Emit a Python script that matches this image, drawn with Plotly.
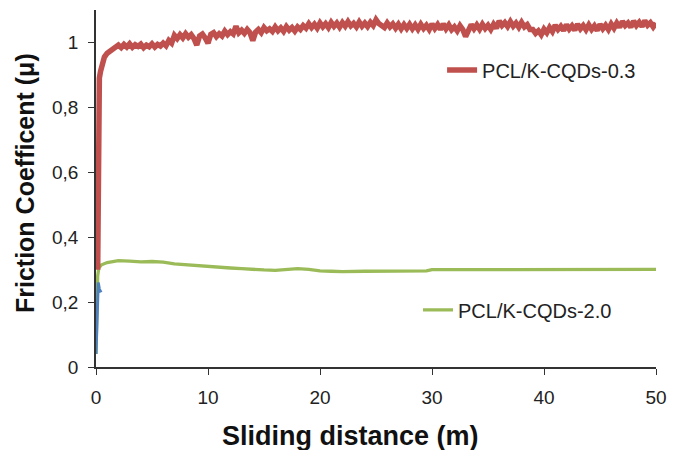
import numpy as np
import plotly.graph_objects as go

# ---- data ----
red_x_start = [0.15, 0.2, 0.25, 0.3, 0.4, 0.55, 0.75, 1.0, 1.3, 1.6]
red_y_start = [0.30, 0.70, 0.85, 0.89, 0.91, 0.935, 0.955, 0.967, 0.975, 0.982]
red_x_main = list(np.arange(2.0, 50.001, 0.25))
red_y_main = [
    0.992, 0.984, 0.994, 0.986, 0.996, 0.985, 0.993, 0.988,
    0.995, 0.984, 0.992, 0.987, 0.996, 0.986, 0.994, 0.989,
    0.998, 0.990, 1.006, 0.998, 1.022, 1.012, 1.024, 1.014,
    1.027, 1.016, 1.024, 1.012, 0.992, 1.020, 1.026, 1.014,
    0.998, 1.025, 1.030, 1.018, 1.027, 1.020, 1.035, 1.024,
    1.033, 1.026, 1.050, 1.030, 1.038, 1.028, 1.040, 1.030,
    1.006, 1.032, 1.040, 1.030, 1.046, 1.036, 1.042, 1.034,
    1.048, 1.036, 1.045, 1.034, 1.049, 1.038, 1.046, 1.035,
    1.048, 1.040, 1.052, 1.044, 1.058, 1.046, 1.056, 1.044,
    1.060, 1.048, 1.058, 1.046, 1.062, 1.050, 1.060, 1.047,
    1.061, 1.050, 1.064, 1.051, 1.059, 1.048, 1.063, 1.050,
    1.060, 1.049, 1.062, 1.052, 1.070, 1.058, 1.054, 1.046,
    1.060, 1.048, 1.057, 1.044, 1.056, 1.042, 1.055, 1.043,
    1.056, 1.042, 1.054, 1.041, 1.056, 1.043, 1.053, 1.040,
    1.057, 1.043, 1.055, 1.040, 1.057, 1.042, 1.054, 1.039,
    1.048, 1.036, 1.052, 1.040, 1.018, 1.034, 1.055, 1.042,
    1.054, 1.041, 1.056, 1.043, 1.053, 1.040, 1.056, 1.044,
    1.066, 1.052, 1.061, 1.049, 1.064, 1.050, 1.060, 1.047,
    1.062, 1.048, 1.055, 1.040, 1.040, 1.028, 1.036, 1.024,
    1.041, 1.030, 1.046, 1.034, 1.053, 1.040, 1.050, 1.037,
    1.055, 1.041, 1.051, 1.038, 1.056, 1.042, 1.052, 1.039,
    1.054, 1.040, 1.051, 1.037, 1.056, 1.042, 1.053, 1.040,
    1.057, 1.044, 1.060, 1.047, 1.065, 1.052, 1.060, 1.047,
    1.066, 1.052, 1.062, 1.049, 1.067, 1.053, 1.061, 1.048,
    1.060,
]
red_x = red_x_start + red_x_main
red_y = red_y_start + red_y_main

green_x = [0, 0.05, 0.1, 0.15, 0.25, 0.5, 1, 1.5, 2, 3, 4, 5, 6, 7, 8, 9, 10,
           11, 12, 13, 14, 15, 16, 17, 18, 19, 20, 21, 22, 24, 26, 28, 29.5,
           30, 32, 34, 36, 38, 40, 42, 44, 46, 48, 50]
green_y = [0.04, 0.10, 0.20, 0.28, 0.305, 0.315, 0.322, 0.326, 0.328, 0.326,
           0.324, 0.325, 0.323, 0.318, 0.315, 0.312, 0.310, 0.307, 0.305,
           0.303, 0.300, 0.299, 0.298, 0.300, 0.303, 0.301, 0.296, 0.295,
           0.294, 0.295, 0.295, 0.296, 0.296, 0.300, 0.300, 0.300, 0.300,
           0.301, 0.301, 0.302, 0.302, 0.301, 0.301, 0.301]

blue_x = [0, 0.05, 0.1, 0.15, 0.2, 0.3, 0.4, 0.45]
blue_y = [0.04, 0.12, 0.20, 0.25, 0.26, 0.24, 0.235, 0.23]

x_ticks = [0, 10, 20, 30, 40, 50]
y_ticks = [0, 0.2, 0.4, 0.6, 0.8, 1.0]
y_tick_text = ["0", "0,2", "0,4", "0,6", "0,8", "1"]

RED = "#C0504D"
GREEN = "#9BBB59"
BLUE = "#4F81BD"
FONT = "Liberation Sans, Arial"

fig = go.Figure()
fig.add_trace(go.Scatter(x=green_x, y=green_y, mode="lines", name="PCL/K-CQDs-2.0",
                         line=dict(color=GREEN, width=3.3), legend="legend2"))
fig.add_trace(go.Scatter(x=red_x, y=red_y, mode="lines", name="PCL/K-CQDs-0.3",
                         line=dict(color=RED, width=5.5), legend="legend"))
fig.add_trace(go.Scatter(x=blue_x, y=blue_y, mode="lines", showlegend=False,
                         line=dict(color=BLUE, width=3)))

axis_common = dict(showline=True, linecolor="#333333", linewidth=1.5,
                   ticks="outside", ticklen=6, tickwidth=1.2, tickcolor="#333333",
                   showgrid=False, zeroline=False,
                   tickfont=dict(family=FONT, size=19, color="#222222"))

fig.update_xaxes(range=[0, 50], tickvals=x_ticks, ticktext=[str(v) for v in x_ticks],
                 ticklabelstandoff=6, **axis_common)
fig.update_yaxes(range=[0, 1.1], tickvals=y_ticks, ticktext=y_tick_text,
                 ticklabelstandoff=6, **axis_common)

fig.add_annotation(text="<b>Sliding distance (m)</b>", xref="paper", yref="paper",
                   x=0.4536, y=-0.193, xanchor="center", yanchor="middle",
                   showarrow=False, font=dict(family=FONT, size=27, color="#111111"))
fig.add_annotation(text="<b>Friction Coefficent (μ)</b>", xref="paper", yref="paper",
                   x=-0.127, y=0.515, xanchor="center", yanchor="middle", textangle=-90,
                   showarrow=False, font=dict(family=FONT, size=25, color="#111111"))

legend_common = dict(bgcolor="rgba(0,0,0,0)", borderwidth=0,
                     font=dict(family=FONT, size=20, color="#222222"),
                     xanchor="left", yanchor="middle")
fig.update_layout(
    width=684, height=450,
    margin=dict(l=96, r=28, t=10, b=83),
    plot_bgcolor="white", paper_bgcolor="white",
    legend=dict(x=0.618, y=0.832, **legend_common),
    legend2=dict(x=0.575, y=0.160, **legend_common),
)

fig.write_html("out.html", config={"displayModeBar": False},
               post_script="document.body.style.margin='0';")
